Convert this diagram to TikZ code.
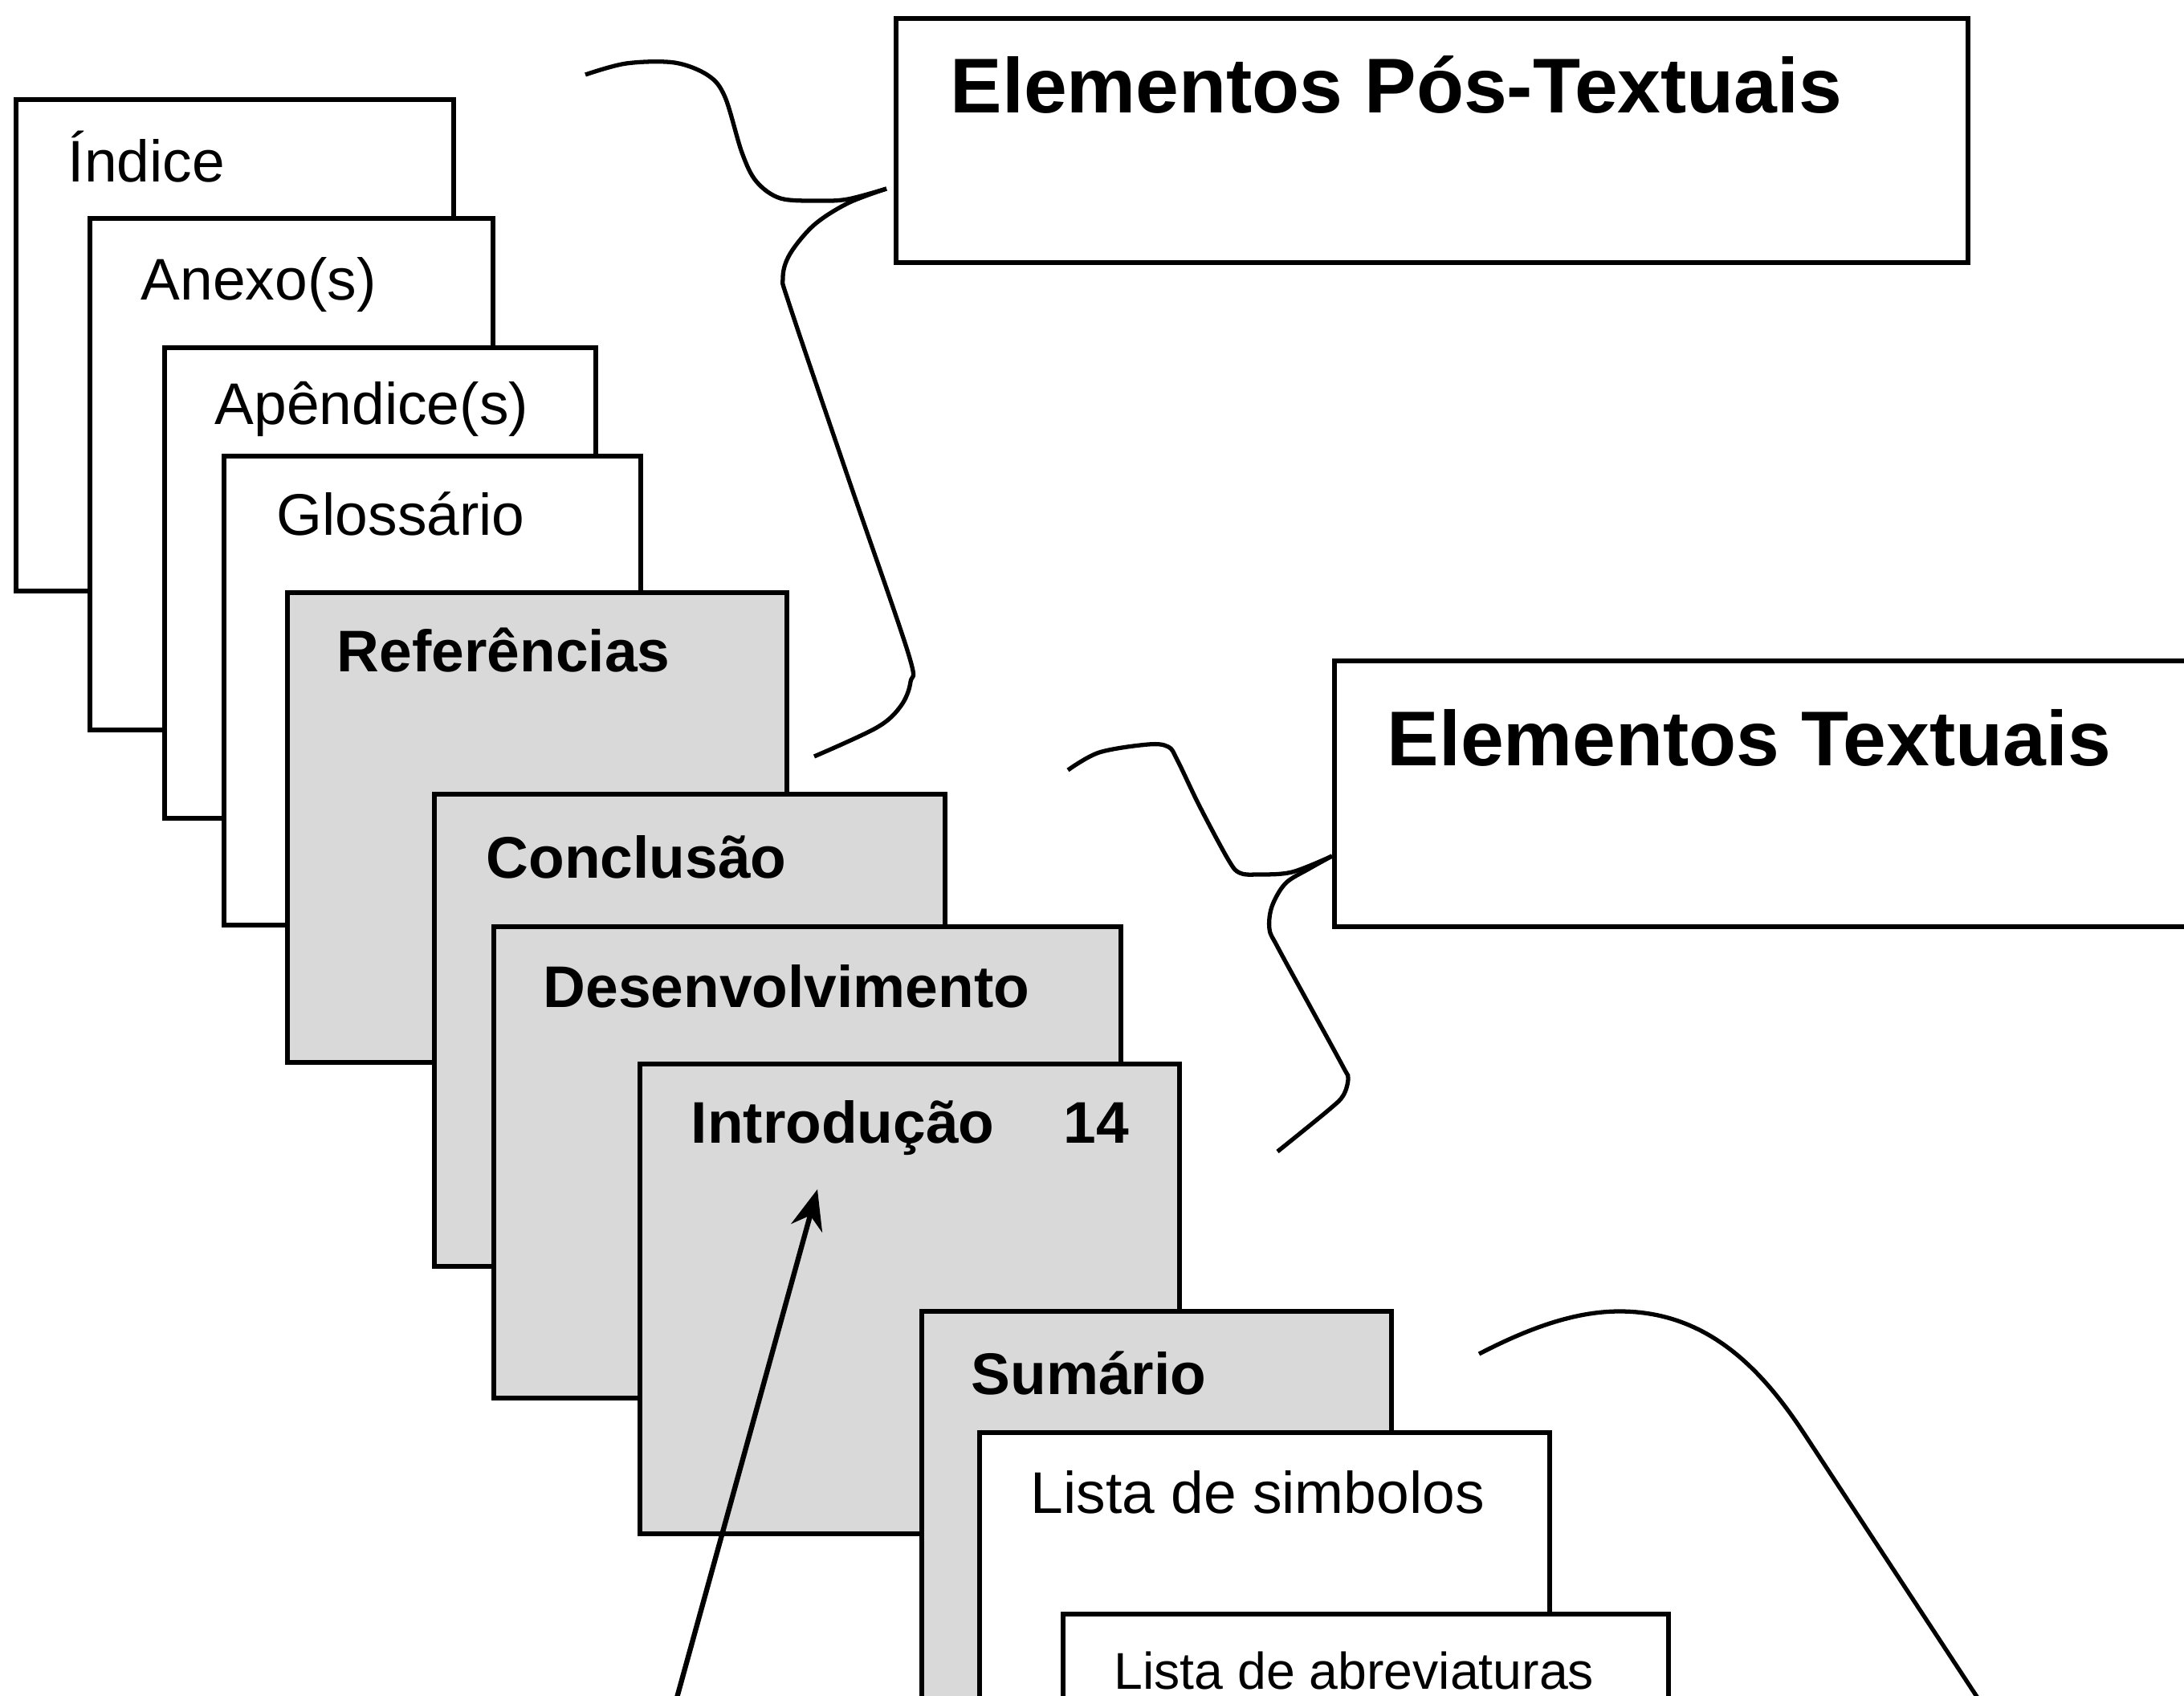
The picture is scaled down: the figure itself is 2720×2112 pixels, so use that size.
\documentclass[tikz,border=0pt]{standalone}
\usepackage{fontspec}
\setmainfont{Liberation Sans}
\usetikzlibrary{arrows.meta}
\definecolor{sheetgray}{RGB}{217,217,217}
\begin{document}
\begin{tikzpicture}[x=0.01cm,y=-0.01cm]
\tikzset{pg/.style={draw,line width=1.7pt,fill=white,anchor=north west,inner sep=0pt,outer sep=0pt},
  pgg/.style={pg,fill=sheetgray},
  big/.style={pg},
  lb/.style={anchor=base west,inner sep=0pt,font=\fontsize{20.8}{24}\selectfont},
  lbb/.style={lb,font=\fontsize{20.8}{24}\selectfont\bfseries},
  lbs/.style={lb,font=\fontsize{18.3}{22}\selectfont},
  hd/.style={anchor=base west,inner sep=0pt,font=\fontsize{27.5}{32}\selectfont\bfseries},
  brc/.style={line width=1.5pt,smooth,tension=0.55}}
\useasboundingbox (0,0) rectangle (2720,2112);
\clip (0,0) rectangle (2720,2112);
\node (ind) at (20,124) [pg,minimum width=5.45cm,minimum height=6.12cm] {};
\node (anx) at (112,272) [pg,minimum width=5.02cm,minimum height=6.37cm] {};
\node (apd) at (205,433) [pg,minimum width=5.37cm,minimum height=5.86cm] {};
\node (glo) at (279,568) [pg,minimum width=5.19cm,minimum height=5.84cm] {};
\node (ref) at (358,738) [pgg,minimum width=6.22cm,minimum height=5.85cm] {};
\node (con) at (541,989) [pgg,minimum width=6.36cm,minimum height=5.88cm] {};
\node (des) at (615,1154) [pgg,minimum width=7.81cm,minimum height=5.87cm] {};
\node (int) at (797,1325) [pgg,minimum width=6.72cm,minimum height=5.85cm] {};
\node (sum) at (1148,1633) [pgg,minimum width=5.85cm,minimum height=6.0cm] {};
\node (sim) at (1220,1784) [pg,minimum width=7.10cm,minimum height=5.0cm] {};
\node (abr) at (1324,2010) [pg,minimum width=7.54cm,minimum height=3.0cm] {};
\node (pos) at (1116,23) [big,minimum width=13.34cm,minimum height=3.04cm] {};
\node (txt) at (1662,823) [big,minimum width=11.2cm,minimum height=3.31cm] {};
\node (ind-l) at (84,226) [lb] {Índice};
\node (anx-l) at (175,373) [lb] {Anexo(s)};
\node (apd-l) at (267,528) [lb] {Apêndice(s)};
\node (glo-l) at (344,666) [lb] {Glossário};
\node (ref-l) at (419,836) [lbb] {Referências};
\node (con-l) at (605,1093) [lbb] {Conclusão};
\node (des-l) at (676,1254) [lbb] {Desenvolvimento};
\node (int-l) at (860,1423) [lbb] {Introdução};
\node (int-p) at (1324,1423) [lbb] {14};
\node (sum-l) at (1209,1736) [lbb] {Sumário};
\node (sim-l) at (1283,1884) [lb] {Lista de simbolos};
\node (abr-l) at (1387,2103) [lbs] {Lista de abreviaturas};
\node (pos-l) at (1183,140) [hd] {Elementos Pós-Textuais};
\node (txt-l) at (1727,953) [hd] {Elementos Textuais};
\draw[brc] plot coordinates {(729,93) (780,79) (840,78) (882,94) (903,121) (924,190) (942,226) (972,247) (1020,250) (1056,248) (1104,235)};
\draw[brc] plot coordinates {(1104,235) (1056,253) (1014,280) (984,316) (975,346) (984,382) (1057,597) (1131,813) (1134,849) (1122,879) (1092,906) (1014,942)};
\draw[brc] plot coordinates {(1330,959) (1369,937) (1430,927) (1455,930) (1466,946) (1494,1004) (1530,1071) (1544,1087) (1566,1089) (1609,1086) (1659,1066)};
\draw[brc] plot coordinates {(1659,1066) (1630,1082) (1601,1100) (1584,1129) (1581,1157) (1591,1179) (1632,1254) (1673,1329) (1679,1343) (1673,1364) (1655,1382) (1591,1434)};
\draw[line width=1.5pt] (1842,1686) .. controls (1902,1655) and (1960,1633) .. (2017,1633)
  .. controls (2130,1633) and (2198,1710) .. (2250,1790) -- (2470,2125);
\coordinate (arr-a) at (840,2125);
\coordinate (arr-b) at (1018,1481);
\draw[line width=1.8pt,-{Stealth[length=5mm,width=4mm]}] (arr-a) -- (arr-b);
\end{tikzpicture}
\end{document}
